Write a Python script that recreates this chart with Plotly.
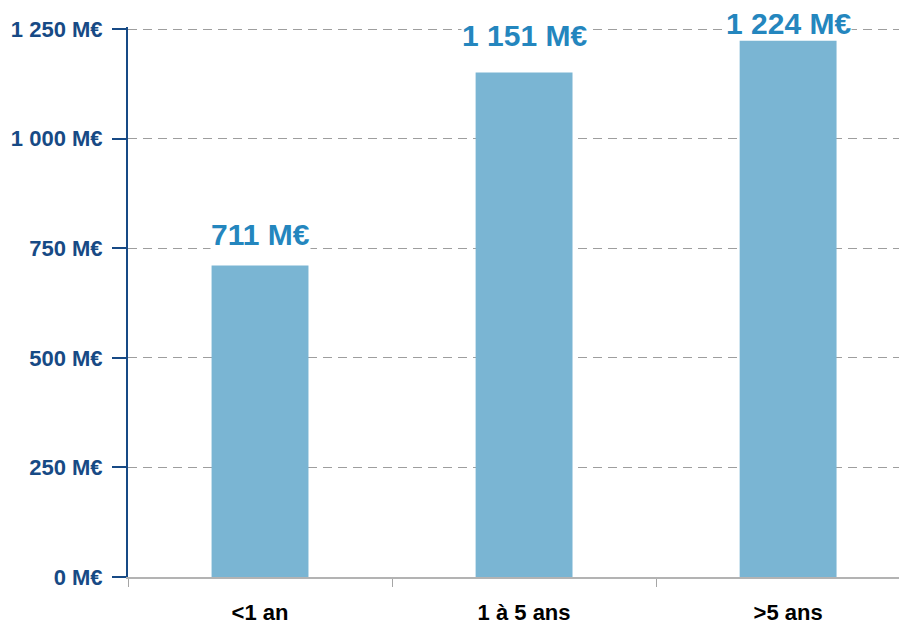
import plotly.graph_objects as go

categories = ["<1 an", "1 à 5 ans", ">5 ans"]
values = [711, 1151, 1224]
value_labels = ["711 M€", "1 151 M€", "1 224 M€"]
y_tick_values = [0, 250, 500, 750, 1000, 1250]
y_tick_labels = ["0 M€", "250 M€", "500 M€", "750 M€", "1 000 M€", "1 250 M€"]

BAR_COLOR = "#7AB5D3"
LABEL_COLOR = "#2486BE"
AXIS_BLUE = "#174A85"
FONT = "Liberation Sans, Arial, sans-serif"
label_shifts = [31, 37, 17]

fig = go.Figure()
fig.add_trace(go.Bar(
    x=categories, y=values, width=0.367,
    marker=dict(color=BAR_COLOR, line=dict(width=0)),
    hoverinfo="skip",
))

for c, v, t, s in zip(categories, values, value_labels, label_shifts):
    fig.add_annotation(
        x=c, y=v, text=t, showarrow=False, yanchor="middle", yshift=s,
        bgcolor="white", borderpad=0,
        font=dict(family=FONT, size=30, color=LABEL_COLOR, weight="bold"),
    )

fig.update_layout(
    width=899, height=624,
    margin=dict(l=128, r=0, t=27, b=47),
    paper_bgcolor="white", plot_bgcolor="white",
    showlegend=False,
    font=dict(family=FONT),
)

fig.update_xaxes(
    type="category",
    range=[-0.5, 2.42],
    tickson="boundaries",
    ticks="outside", ticklen=8, tickwidth=1, tickcolor="#A6A6A6",
    showline=True, linecolor="#B3B3B3", linewidth=2,
    showgrid=False, zeroline=False,
    tickfont=dict(family=FONT, size=22, color="black", weight="bold"),
    ticklabelstandoff=15,
)

fig.update_yaxes(
    range=[0, 1255],
    tickmode="array", tickvals=y_tick_values, ticktext=y_tick_labels,
    ticks="outside", ticklen=14, tickwidth=2, tickcolor=AXIS_BLUE,
    showline=True, linecolor=AXIS_BLUE, linewidth=2,
    showgrid=True, gridcolor="#9E9E9E", gridwidth=1, griddash="9px,6px",
    zeroline=False,
    tickfont=dict(family=FONT, size=22, color=AXIS_BLUE, weight="bold"),
    ticklabelstandoff=5,
)

fig.write_html("out.html")
